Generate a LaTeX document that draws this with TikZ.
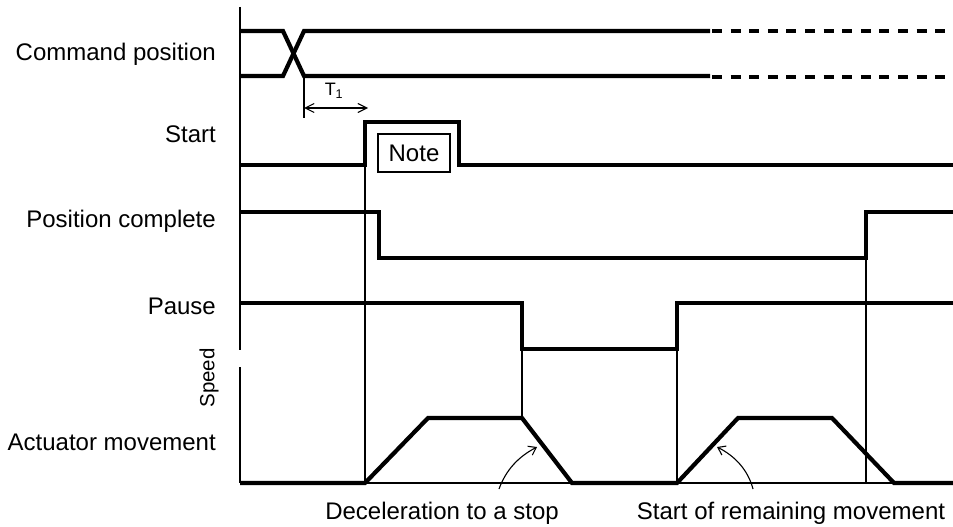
\documentclass[tikz,border=0pt]{standalone}
\usepackage{fontspec}
\setmainfont{Liberation Sans}
\usetikzlibrary{arrows.meta}
\begin{document}
\begin{tikzpicture}[x=1pt,y=-1pt,
  sig/.style={line width=4.2pt, line join=miter},
  sigdash/.style={line width=3.6pt, dash pattern=on 10pt off 8.6pt},
  guide/.style={line width=1.4pt},
  lbl/.style={font=\fontsize{24}{28}\selectfont, inner sep=0pt},
  barb/.style={line width=1.1pt, -{Straight Barb[length=7pt,width=10pt]}},
  dbarb/.style={line width=1.1pt, {Straight Barb[length=9pt,width=9pt]}-{Straight Barb[length=9pt,width=9pt]}},
  notebox/.style={draw, line width=1.8pt, minimum width=72pt, minimum height=38pt, inner sep=0pt, font=\fontsize{24}{28}\selectfont}
]
\useasboundingbox (0,0) rectangle (953,527);

% labels
\node[lbl, anchor=base east] (lcmd) at (216,61) {Command position};
\node[lbl, anchor=base east] (lstart) at (216,142) {Start};
\node[lbl, anchor=base east] (lpc) at (216,227) {Position complete};
\node[lbl, anchor=base east] (lpause) at (216,314) {Pause};
\node[lbl, anchor=base east] (lact) at (216,450) {Actuator movement};
\node[inner sep=0pt, rotate=90, font=\fontsize{20.5}{24}\selectfont] (lspeed) at (209,378) {Speed};
\node[lbl, anchor=base] (ldec) at (442,519) {Deceleration to a stop};
\node[lbl, anchor=base] (lrem) at (791,519) {Start of remaining movement};

% axes
\draw[guide] (240,7) -- (240,350);
\draw[guide] (240,367) -- (240,483);
\draw[guide] (240,483) -- (953,483);

% command position
\draw[sig] (240,31) -- (283,31) -- (304,76) -- (710,76);
\draw[sig] (240,76) -- (283,76) -- (304,31) -- (710,31);
\draw[sigdash] (712,31) -- (948,31);
\draw[sigdash] (712,77) -- (948,77);

% T1
\coordinate (t1a) at (304,76);
\coordinate (t1b) at (304,118);
\draw[guide] (t1a) -- (t1b);
\coordinate (t1l) at (304,108);
\coordinate (t1r) at (368,108);
\draw[dbarb] (t1l) -- (t1r);
\node[inner sep=0pt, font=\fontsize{18}{20}\selectfont] (t1) at (334,91) {T\textsubscript{1}};

% start
\draw[sig] (240,165) -- (365,165) -- (365,122) -- (459,122) -- (459,165) -- (953,165);
\node[notebox] (note) at (414,153) {Note};
\draw[guide] (365,165) -- (365,483);

% position complete
\draw[sig] (240,212) -- (379,212) -- (379,258) -- (866,258) -- (866,212) -- (953,212);
\draw[guide] (866,258) -- (866,483);

% pause
\draw[sig] (240,303) -- (522,303) -- (522,349) -- (677,349) -- (677,303) -- (953,303);
\draw[guide] (522,349) -- (522,418);
\draw[guide] (677,349) -- (677,483);

% actuator movement
\draw[sig] (240,483) -- (365,483) -- (428,418) -- (522,418) -- (572,483) -- (677,483) -- (738,418) -- (832,418) -- (894,483) -- (953,483);

% annotation arrows
\coordinate (d0) at (499,489);
\coordinate (d1) at (537,447);
\draw[barb] (d0) .. controls (506,470) and (518,457) .. (d1);
\coordinate (r0) at (753,489);
\coordinate (r1) at (717,447);
\draw[barb] (r0) .. controls (748,470) and (735,456) .. (r1);
\end{tikzpicture}
\end{document}
